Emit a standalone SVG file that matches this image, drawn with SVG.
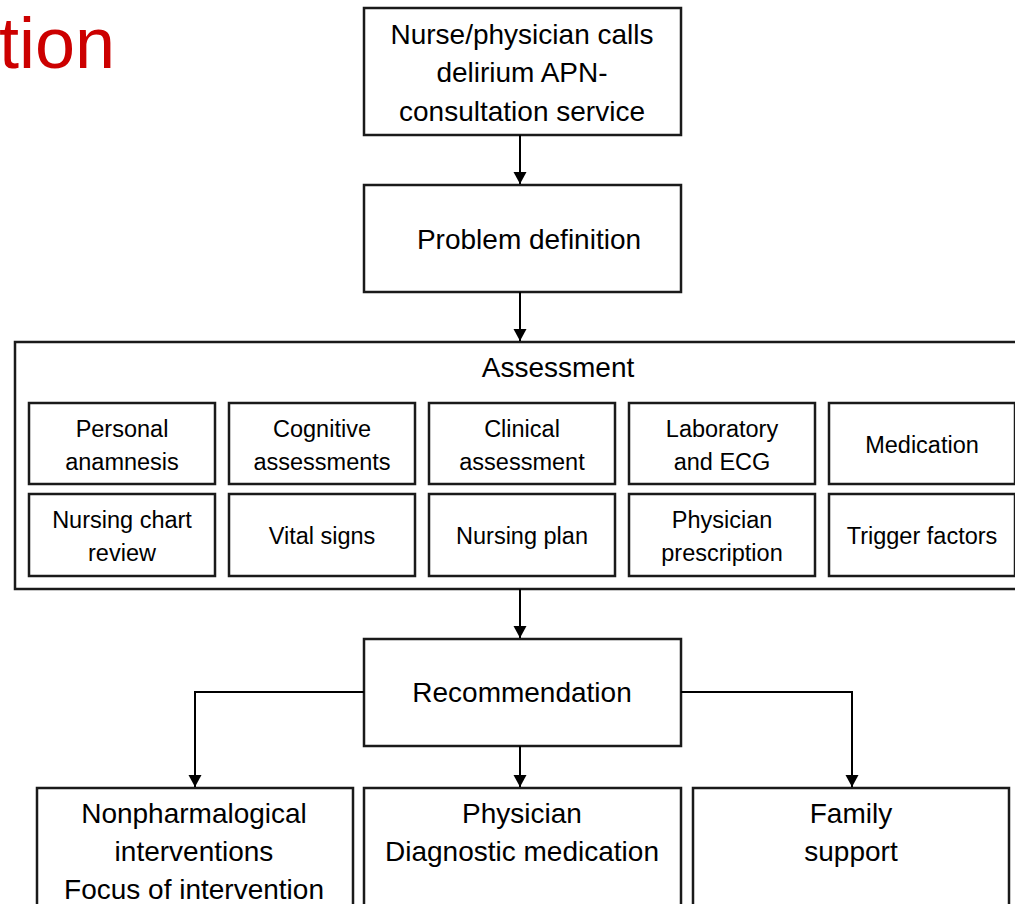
<svg xmlns="http://www.w3.org/2000/svg" width="1015" height="904" viewBox="0 0 1015 904">
<defs>
<style>
.box{fill:#fff;stroke:#1a1a1a;stroke-width:2.5}
.t{font-family:"Liberation Sans",Arial,sans-serif;font-size:28px;fill:#000;text-anchor:middle}
.s{font-family:"Liberation Sans",Arial,sans-serif;font-size:23.5px;fill:#000;text-anchor:middle}
.c{fill:none;stroke:#000;stroke-width:2}
</style>
<marker id="ah" markerUnits="userSpaceOnUse" markerWidth="14" markerHeight="14" refX="12" refY="6.5" orient="auto">
<path d="M0,0 L12,6.5 L0,13 Z" fill="#000"/>
</marker>
</defs>
<rect width="1015" height="904" fill="#fff"/>
<text x="-1" y="68" font-family="Liberation Sans, Arial, sans-serif" font-size="72" fill="#cc0000">tion</text>

<g id="n1"><rect class="box" x="364" y="8" width="317" height="127"/>
<text class="t" x="522" y="44">Nurse/physician calls</text>
<text class="t" x="522" y="82">delirium APN-</text>
<text class="t" x="522" y="121">consultation service</text></g>

<g id="n2"><rect class="box" x="364" y="185" width="317" height="107"/>
<text class="t" x="529" y="249">Problem definition</text></g>

<g id="n3"><rect class="box" x="15" y="342" width="1012" height="247"/>
<text class="t" x="558" y="377">Assessment</text></g>

<g id="a1"><rect class="box" x="29" y="403" width="186" height="81"/><text class="s" x="122" y="437">Personal</text><text class="s" x="122" y="470">anamnesis</text></g>
<g id="a2"><rect class="box" x="229" y="403" width="186" height="81"/><text class="s" x="322" y="437">Cognitive</text><text class="s" x="322" y="470">assessments</text></g>
<g id="a3"><rect class="box" x="429" y="403" width="186" height="81"/><text class="s" x="522" y="437">Clinical</text><text class="s" x="522" y="470">assessment</text></g>
<g id="a4"><rect class="box" x="629" y="403" width="186" height="81"/><text class="s" x="722" y="437">Laboratory</text><text class="s" x="722" y="470">and ECG</text></g>
<g id="a5"><rect class="box" x="829" y="403" width="186" height="81"/><text class="s" x="922" y="453">Medication</text></g>
<g id="a6"><rect class="box" x="29" y="494" width="186" height="82"/><text class="s" x="122" y="528">Nursing chart</text><text class="s" x="122" y="561">review</text></g>
<g id="a7"><rect class="box" x="229" y="494" width="186" height="82"/><text class="s" x="322" y="544">Vital signs</text></g>
<g id="a8"><rect class="box" x="429" y="494" width="186" height="82"/><text class="s" x="522" y="544">Nursing plan</text></g>
<g id="a9"><rect class="box" x="629" y="494" width="186" height="82"/><text class="s" x="722" y="528">Physician</text><text class="s" x="722" y="561">prescription</text></g>
<g id="a10"><rect class="box" x="829" y="494" width="186" height="82"/><text class="s" x="922" y="544">Trigger factors</text></g>

<g id="n4"><rect class="box" x="364" y="639" width="317" height="107"/>
<text class="t" x="522" y="702">Recommendation</text></g>

<g id="n5"><rect class="box" x="37" y="788" width="316" height="130"/>
<text class="t" x="194" y="823">Nonpharmalogical</text>
<text class="t" x="194" y="861">interventions</text>
<text class="t" x="194" y="899">Focus of intervention</text></g>
<g id="n6"><rect class="box" x="364" y="788" width="317" height="130"/>
<text class="t" x="522" y="823">Physician</text>
<text class="t" x="522" y="861">Diagnostic medication</text></g>
<g id="n7"><rect class="box" x="693" y="788" width="316" height="130"/>
<text class="t" x="851" y="823">Family</text>
<text class="t" x="851" y="861">support</text></g>

<g id="connectors">
<path class="c" d="M520,135 V184" marker-end="url(#ah)"/>
<path class="c" d="M520,292 V341" marker-end="url(#ah)"/>
<path class="c" d="M520,589 V638" marker-end="url(#ah)"/>
<path class="c" d="M364,692 H195 V787" marker-end="url(#ah)"/>
<path class="c" d="M520,746 V787" marker-end="url(#ah)"/>
<path class="c" d="M681,692 H852 V787" marker-end="url(#ah)"/>
</g>
</svg>
